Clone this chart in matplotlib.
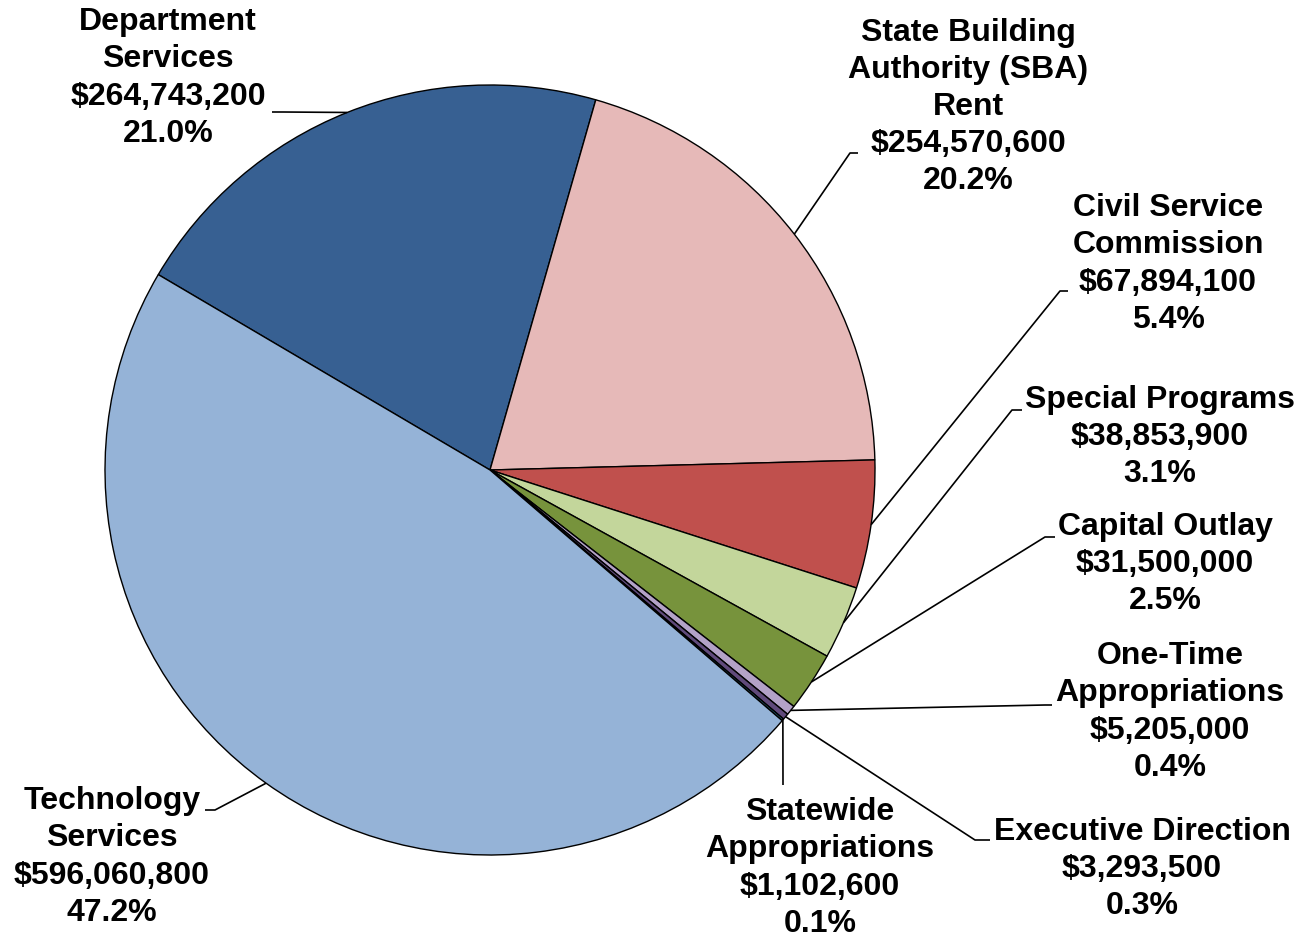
import numpy as np
import matplotlib
matplotlib.use("Agg")
import matplotlib.pyplot as plt

# Datos del gráfico (orden horario empezando por Department Services)
categorias = ["Department\nServices", "State Building\nAuthority (SBA)\nRent",
              "Civil Service\nCommission", "Special Programs", "Capital Outlay",
              "One-Time\nAppropriations", "Executive Direction",
              "Statewide\nAppropriations", "Technology\nServices"]
montos = [264743200, 254570600, 67894100, 38853900, 31500000,
          5205000, 3293500, 1102600, 596060800]
porcentajes = ["21.0%", "20.2%", "5.4%", "3.1%", "2.5%", "0.4%", "0.3%", "0.1%", "47.2%"]
colores = ["#376092", "#E6B9B8", "#C0504D", "#C3D69B", "#77933C",
           "#B3A2C7", "#604A7B", "#1F5F7A", "#95B3D7"]

W, H = 1308, 940
CX, CY, R = 490, 470, 385

# Posición de cada etiqueta (en píxeles, y hacia abajo) y recorrido de la línea guía
pos_texto = [(168, 78), (968, 107), (1168, 264), (1160, 437), (1165, 564),
             (1170, 712), (1142, 869), (820, 868), (112, 857)]
guias = [[(283, 112), (272, 112)],
         [(850, 153), (858, 153)],
         [(1060, 291), (1068, 291)],
         [(1012, 410), (1022, 410)],
         [(1045, 537), (1055, 537)],
         [(1045, 705), (1052, 705)],
         [(975, 840), (990, 840)],
         [(783, 785)],
         [(215, 810), (205, 810)]]

fig = plt.figure(figsize=(W / 100, H / 100), dpi=100)
ax = fig.add_axes([0, 0, 1, 1])

wedges, _ = ax.pie(montos, colors=colores, startangle=149.5, counterclock=False,
                   center=(CX, H - CY), radius=R,
                   wedgeprops=dict(edgecolor="black", linewidth=1.0))

for w, cat, monto, pct, (tx, ty), guia in zip(wedges, categorias, montos,
                                                porcentajes, pos_texto, guias):
    ang = np.deg2rad((w.theta1 + w.theta2) / 2)
    px = CX + R * np.cos(ang)
    py = (H - CY) + R * np.sin(ang)
    xs = [px] + [g[0] for g in guia]
    ys = [py] + [H - g[1] for g in guia]
    ax.plot(xs, ys, color="black", linewidth=1.2, solid_capstyle="butt")
    texto = f"{cat}\n${monto:,}\n{pct}"
    ax.text(tx, H - ty, texto, ha="center", va="center", fontsize=23,
            fontweight="bold", family="Liberation Sans", linespacing=1.31)

ax.set_xlim(0, W)
ax.set_ylim(0, H)
ax.set_aspect("equal")
ax.axis("off")

fig.savefig("out.png", dpi=100)
